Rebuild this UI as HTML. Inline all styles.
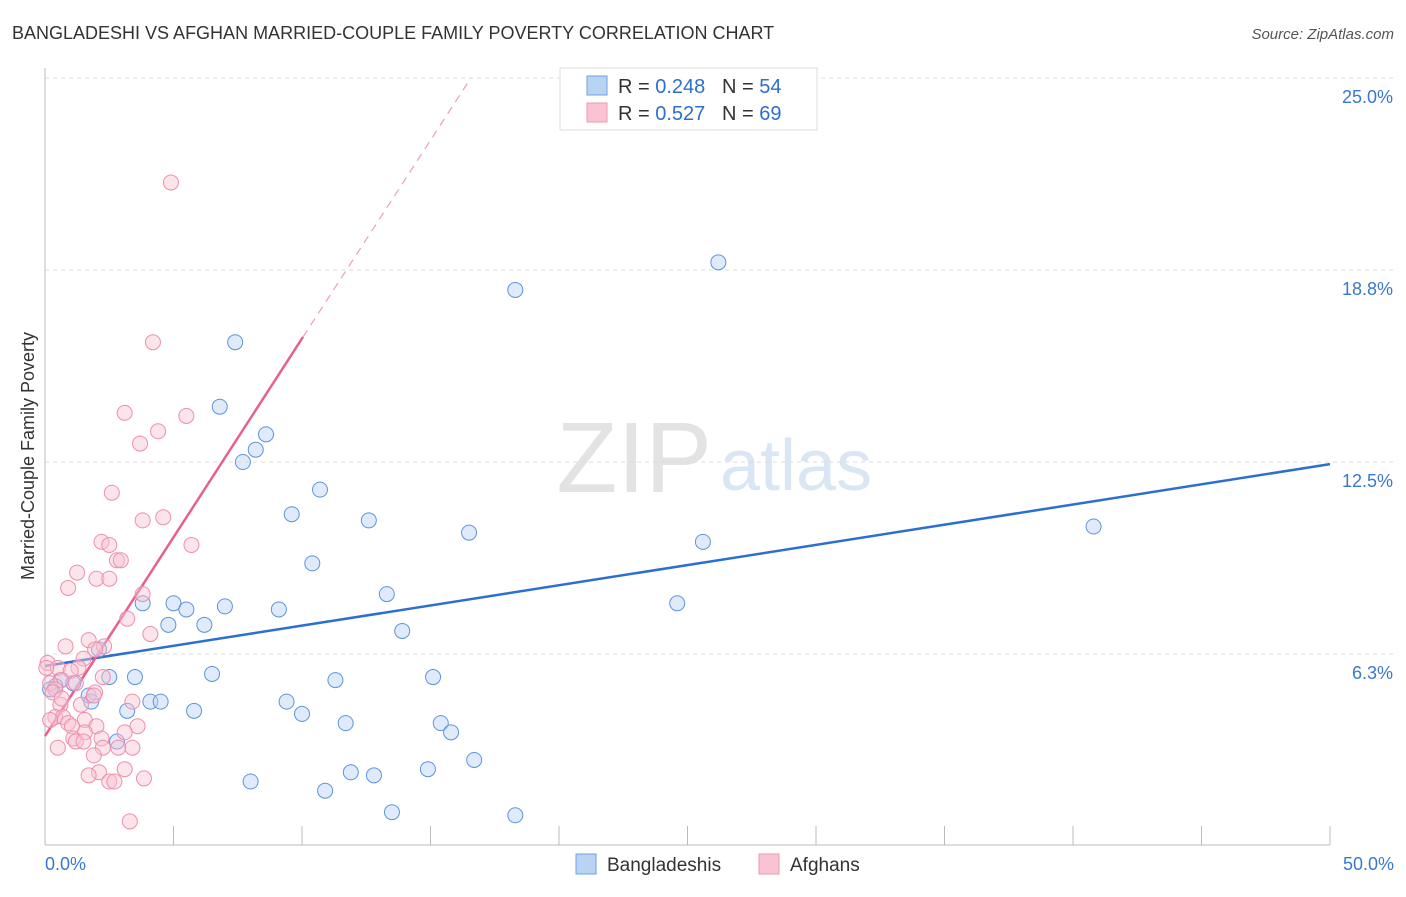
<!DOCTYPE html>
<html><head><meta charset="utf-8"><style>
body{margin:0;background:#fff;font-family:"Liberation Sans",sans-serif}
svg text{font-family:"Liberation Sans",sans-serif}
</style></head><body>
<svg id="chart" width="1406" height="892" viewBox="0 0 1406 892" xmlns="http://www.w3.org/2000/svg">
<text x="12" y="39" font-size="18" fill="#333">BANGLADESHI VS AFGHAN MARRIED-COUPLE FAMILY POVERTY CORRELATION CHART</text>
<text x="1394" y="39" font-size="15" fill="#555" text-anchor="end" font-style="italic">Source: ZipAtlas.com</text>
<g>
<text x="712" y="492" font-size="100" fill="#e3e3e3" text-anchor="end" font-family="Liberation Serif">ZIP</text>
<text x="720" y="490" font-size="72" fill="#dbe6f5">atlas</text>
</g>
<g id="grid"></g>
<g id="axes"></g>
<g id="lines"></g>
<g id="points"></g>
<text transform="translate(34,456) rotate(-90)" font-size="18" fill="#333" text-anchor="middle">Married-Couple Family Poverty</text>
<g>
<rect x="560" y="68" width="257" height="62" fill="#fff" stroke="#ddd"/>
<rect x="587" y="76" width="20" height="19" fill="#b9d3f3" stroke="#6f9fe0"/>
<rect x="587" y="103" width="20" height="19" fill="#f8c4d3" stroke="#ee9ab2"/>
<text x="618" y="93" font-size="20" fill="#333">R = <tspan fill="#2c6fd1">0.248</tspan>&#160;&#160;&#160;N = <tspan fill="#2c6fd1">54</tspan></text>
<text x="618" y="120" font-size="20" fill="#333">R = <tspan fill="#2c6fd1">0.527</tspan>&#160;&#160;&#160;N = <tspan fill="#2c6fd1">69</tspan></text>
</g>
<g>
<rect x="576" y="854" width="20" height="20" fill="#b9d3f3" stroke="#6f9fe0"/>
<text x="607" y="871" font-size="19" fill="#333">Bangladeshis</text>
<rect x="759" y="854" width="20" height="20" fill="#f8c4d3" stroke="#ee9ab2"/>
<text x="790" y="871" font-size="19" fill="#333">Afghans</text>
</g>
</svg>
<script>
const yTicks=[6.25,12.5,18.75,25];
const yTickLabels=["6.3%","12.5%","18.8%","25.0%"];
const xTickLabels=["0.0%","50.0%"];
const blueX=[7.4,6.8,8.6,8.2,7.7,10.7,9.6,12.6,16.5,10.4,13.3,18.3,26.2,40.8,25.6,24.6,3.8,5.0,5.5,7.0,9.1,4.8,6.2,13.9,2.1,6.5,3.5,2.5,11.3,15.1,0.6,1.1,0.4,0.2,1.7,1.8,4.1,4.5,9.4,3.2,5.8,10.0,11.7,15.4,15.8,2.8,16.7,11.9,12.8,14.9,8.0,10.9,13.5,18.3];
const blueY=[16.4,14.3,13.4,12.9,12.5,11.6,10.8,10.6,10.2,9.2,8.2,18.1,19.0,10.4,9.9,7.9,7.9,7.9,7.7,7.8,7.7,7.2,7.2,7.0,6.4,5.6,5.5,5.5,5.4,5.5,5.4,5.3,5.2,5.1,4.9,4.7,4.7,4.7,4.7,4.4,4.4,4.3,4.0,4.0,3.7,3.4,2.8,2.4,2.3,2.5,2.1,1.8,1.1,1.0];
const pinkX=[4.9,4.2,3.1,5.5,4.4,3.7,2.6,3.8,4.6,2.2,2.5,5.7,2.8,2.95,1.25,2.0,2.5,0.9,3.8,3.2,4.1,0.8,1.7,2.3,1.95,1.5,0.1,0.5,1.3,1.0,2.25,0.65,0.2,1.2,0.4,1.95,1.9,3.4,0.6,1.4,0.4,0.7,0.2,1.55,0.9,1.05,2.0,3.6,3.1,1.55,2.2,1.1,1.2,2.85,3.4,0.5,2.25,1.9,3.1,2.1,1.7,2.5,2.7,3.85,3.3,1.5,0.05,0.3,0.65];
const pinkY=[21.6,16.4,14.1,14.0,13.5,13.1,11.5,10.6,10.7,9.9,9.8,9.8,9.3,9.3,8.9,8.7,8.7,8.4,8.2,7.4,6.9,6.5,6.7,6.5,6.4,6.1,5.96,5.8,5.8,5.7,5.5,5.4,5.3,5.3,5.1,5.0,4.9,4.7,4.6,4.6,4.2,4.2,4.1,4.1,4.0,3.9,3.9,3.9,3.7,3.7,3.5,3.5,3.4,3.2,3.2,3.2,3.2,2.95,2.5,2.4,2.3,2.1,2.1,2.2,0.8,3.4,5.8,5.0,4.8];
const blueLine=[[0,5.86],[50,12.43]];
const pinkLine=[[0,3.58],[10.04,16.57]];
const pinkDash=[[10.04,16.57],[16.57,25]];
const X0=45,X1=1330,Y0=846,ppy=30.72;
const sx=v=>X0+(X1-X0)*v/50, sy=v=>Y0-v*ppy;
const NS="http://www.w3.org/2000/svg";
function mk(parent,tag,attrs){const e=document.createElementNS(NS,tag);for(const k in attrs)e.setAttribute(k,attrs[k]);document.getElementById(parent).appendChild(e);return e;}
yTicks.forEach((t,i)=>{
 const g=mk('grid','line',{x1:X0,x2:1394,y1:sy(t),y2:sy(t),stroke:'#ddd','stroke-dasharray':'4,4'});
 
 
 const l=mk('axes','text',{x:1393,y:sy(t)+25,'font-size':18,fill:'#3a77d0','text-anchor':'end'});
 l.textContent=yTickLabels[i];
 
 
});
mk('axes','line',{x1:X0,x2:X0,y1:68,y2:845,stroke:'#bbb'});
mk('axes','line',{x1:X0,x2:X1,y1:845,y2:845,stroke:'#bbb'});
for(let i=0;i<=10;i++){const t=mk('axes','line',{x1:sx(i*5),x2:sx(i*5),y1:826,y2:845,stroke:'#bbb'});
 
 }
[[0,'start',45],[50,'end',1394]].forEach((a,i)=>{const l=mk('axes','text',{x:a[2],y:870,'font-size':18,fill:'#3a77d0','text-anchor':a[1]});l.textContent=xTickLabels[i];
 
 });
function pts(xs,ys,fill,stroke,name){xs.forEach((x,i)=>{const c=mk('points','circle',{cx:sx(x),cy:sy(ys[i]),r:7.5,fill:fill,'fill-opacity':0.45,stroke:stroke,'stroke-width':1});
 
 });}
pts(blueX,blueY,'#b9d3f3','#5e93dd','bangladeshi-point');
pts(pinkX,pinkY,'#f8c4d3','#ee8fab','afghan-point');
let e=mk('lines','line',{x1:sx(blueLine[0][0]),y1:sy(blueLine[0][1]),x2:sx(blueLine[1][0]),y2:sy(blueLine[1][1]),stroke:'#2c6fd1','stroke-width':2.5});


e=mk('lines','line',{x1:sx(pinkLine[0][0]),y1:sy(pinkLine[0][1]),x2:sx(pinkLine[1][0]),y2:sy(pinkLine[1][1]),stroke:'#e8608c','stroke-width':2.5});


e=mk('lines','line',{x1:sx(pinkDash[0][0]),y1:sy(pinkDash[0][1]),x2:sx(pinkDash[1][0]),y2:sy(pinkDash[1][1]),stroke:'#eaa0b8','stroke-width':1.2,'stroke-dasharray':'8,6'});


</script>
</body></html>
